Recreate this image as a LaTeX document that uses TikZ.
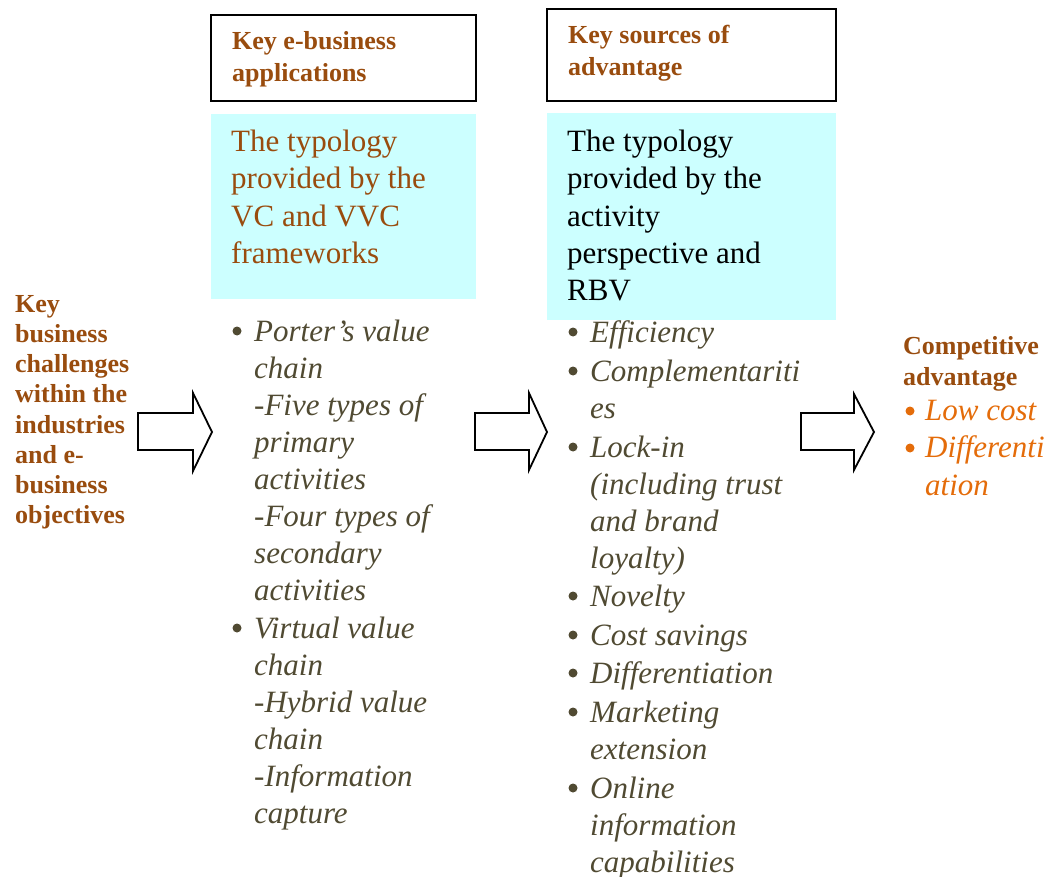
\documentclass[tikz,border=0pt]{standalone}
\usepackage{fontspec}
\setmainfont{Liberation Serif}
\definecolor{brn}{RGB}{153,76,14}
\definecolor{olv}{RGB}{80,74,50}
\definecolor{org}{RGB}{228,108,10}
\definecolor{cyn}{RGB}{204,255,255}
\begin{document}
\begin{tikzpicture}[x=1pt,y=-1pt,
  hdr/.style={anchor=base west,inner sep=0pt,font=\fontsize{26}{32}\selectfont\bfseries,text=brn},
  typ/.style={anchor=base west,inner sep=0pt,font=\fontsize{31}{37}\selectfont},
  itm/.style={anchor=base west,inner sep=0pt,font=\fontsize{31}{37}\selectfont\itshape,text=olv},
  blt/.style={circle,fill=olv,inner sep=0pt,minimum size=9pt},
  hbox/.style={draw=black,line width=2pt},
  cyanbox/.style={fill=cyn},
  blockarrow/.style={draw=black,fill=white,line width=1.8pt,line join=miter}]
\useasboundingbox (0,0) rectangle (1051,877);

% header boxes
\draw[hbox] (211,15) rectangle (476,101);
\draw[hbox] (547,9) rectangle (836,101);
\fill[cyanbox] (211,114) rectangle (476,299);
\fill[cyanbox] (547,113) rectangle (836,320);

\node[hdr] (h1a) at (232,50) {Key e-business};
\node[hdr] (h1b) at (232,82) {applications};
\node[hdr] (h2a) at (568,44) {Key sources of};
\node[hdr] (h2b) at (568,76) {advantage};

% typology texts
\foreach \t/\y [count=\i] in {{The typology}/152,{provided by the}/189,{VC and VVC}/226,{frameworks}/263}
  \node[typ,text=brn] (ta\i) at (231,\y) {\t};
\foreach \t/\y [count=\i] in {{The typology}/152,{provided by the}/189,{activity}/226,{perspective and}/263,{RBV}/300}
  \node[typ,text=black] (tb\i) at (567,\y) {\t};

% left text
\foreach \t/\y [count=\i] in {{Key}/312,{business}/342,{challenges}/372,{within the}/402,{industries}/433,{and e-}/463,{business}/493,{objectives}/523}
  \node[hdr] (lt\i) at (15,\y) {\t};

% list 1
\node[blt] (b1a) at (237,331) {};
\node[blt] (b1b) at (237,628) {};
\foreach \t/\y [count=\i] in {{Porter’s value}/341,{chain}/378,{-Five types of}/415,{primary}/452,{activities}/489,{-Four types of}/526,{secondary}/563,{activities}/600,{Virtual value}/638,{chain}/675,{-Hybrid value}/712,{chain}/749,{-Information}/786,{capture}/823}
  \node[itm] (la\i) at (254,\y) {\t};

% list 2
\foreach \y [count=\i] in {342,381,457,606,645,683,722,798}
  \node[blt] (b2\i) at (573,\y-10) {};
\foreach \t/\y [count=\i] in {{Efficiency}/342,{Complementariti}/381,{es}/418,{Lock-in}/457,{(including trust}/494,{and brand}/531,{loyalty)}/568,{Novelty}/606,{Cost savings}/645,{Differentiation}/683,{Marketing}/722,{extension}/759,{Online}/798,{information}/835,{capabilities}/872}
  \node[itm] (lb\i) at (590,\y) {\t};

% competitive advantage
\node[hdr] (ca1) at (903,354) {Competitive};
\node[hdr] (ca2) at (903,385) {advantage};
\node[blt,fill=org] (b3a) at (910,411) {};
\node[blt,fill=org] (b3b) at (910,448) {};
\node[itm,text=org] (cb1) at (925,420) {Low cost};
\node[itm,text=org] (cb2) at (925,457) {Differenti};
\node[itm,text=org] (cb3) at (925,495) {ation};

% block arrows
\draw[blockarrow] (138,413) -- (193,413) -- (193,393) -- (212,432) -- (193,471) -- (193,450) -- (138,450) -- cycle;
\draw[blockarrow] (475,413) -- (529,413) -- (529,393) -- (547,432) -- (529,470) -- (529,450) -- (475,450) -- cycle;
\draw[blockarrow] (801,413) -- (854,413) -- (854,394) -- (874,432) -- (854,470) -- (854,450) -- (801,450) -- cycle;
\end{tikzpicture}
\end{document}
